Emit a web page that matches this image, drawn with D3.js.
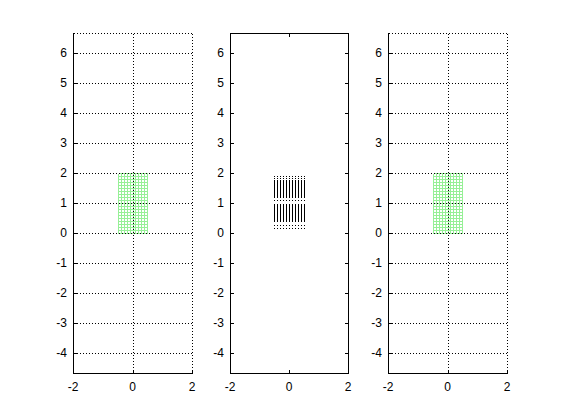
<!DOCTYPE html>
<html><head><meta charset="utf-8">
<script src="https://cdn.jsdelivr.net/npm/d3@7"></script>
<style>
html,body{margin:0;padding:0;background:#fff;}
svg{display:block;}
text{font-family:"Liberation Sans",Arial,sans-serif;font-size:12px;fill:#000;}
</style></head><body>
<script>
// ---- data ----
const xTicks = [-2, 0, 2];
const yTicks = [-4, -3, -2, -1, 0, 1, 2, 3, 4, 5, 6];
const xDomain = [-2, 2];
const yDomain = [-4.667, 6.667];
const meshX = [-0.5, -0.4, -0.3, -0.2, -0.1, 0, 0.1, 0.2, 0.3, 0.4, 0.5];
const meshY = [0, 0.1, 0.2, 0.3, 0.4, 0.5, 0.6, 0.7, 0.8, 0.9, 1.0, 1.1, 1.2, 1.3, 1.4, 1.5, 1.6, 1.7, 1.8, 1.9, 2.0];
const quiverX = [-0.5, -0.4, -0.3, -0.2, -0.1, 0, 0.1, 0.2, 0.3, 0.4, 0.5];
const quiverY = [1.9, 1.83, 1.77, 1.67, 1.57, 1.47, 1.37, 1.27, 1.1, 0.95, 0.85, 0.75, 0.65, 0.55, 0.45, 0.27, 0.17];
const quiverV = [0, 0, -0.1, -0.1, -0.1, -0.1, -0.1, -0.1, 0, -0.1, -0.1, -0.1, -0.1, -0.1, -0.1, 0, 0];

const W = 561, H = 420;
const svg = d3.select("body").append("svg").attr("width", W).attr("height", H);

const panels = [
  {x0: 73, x1: 192, type: "mesh", box: false, grid: true},
  {x0: 230, x1: 348, type: "quiver", box: true, grid: false},
  {x0: 388, x1: 507, type: "mesh", box: false, grid: true}
];
const yTop = 33, yBot = 373;
const meshColor = "rgb(150,240,150)";

panels.forEach(p => {
  const x = d3.scaleLinear().domain(xDomain).range([p.x0, p.x1]);
  const y = d3.scaleLinear().domain(yDomain).range([yBot, yTop]);
  const g = svg.append("g");
  const px = v => Math.round(x(v)) + 0.5;
  const py = v => Math.round(y(v)) + 0.5;

  if (p.type === "mesh") {
    const m = g.append("g").attr("stroke", meshColor).attr("stroke-width", 1).attr("shape-rendering", "crispEdges");
    meshX.forEach(v => m.append("line").attr("x1", px(v)).attr("x2", px(v))
      .attr("y1", py(meshY[0])).attr("y2", py(meshY[meshY.length - 1])));
    meshY.forEach(v => m.append("line").attr("y1", py(v)).attr("y2", py(v))
      .attr("x1", px(meshX[0])).attr("x2", px(meshX[meshX.length - 1])));
  } else {
    const q = g.append("g").attr("stroke", "#000").attr("stroke-width", 1).attr("fill", "none")
      .attr("shape-rendering", "crispEdges");
    quiverX.forEach(xv => {
      quiverY.forEach((yv, i) => {
        const v = quiverV[i];
        const xa = px(xv);
        const ya = y(yv), yb = y(yv + v);
        if (Math.abs(yb - ya) < 1) {
          q.append("rect").attr("x", xa - 0.5).attr("y", Math.round(ya)).attr("width", 1).attr("height", 1)
            .attr("fill", "#000").attr("stroke", "none");
        } else {
          q.append("line").attr("x1", xa).attr("x2", xa).attr("y1", Math.round(ya)).attr("y2", Math.round(yb));
        }
      });
    });
  }

  // grid
  if (p.grid) {
    const gr = g.append("g").attr("stroke", "#000").attr("stroke-width", 1)
      .attr("stroke-dasharray", "1,2").attr("shape-rendering", "crispEdges");
    xTicks.slice(1).forEach(v => gr.append("line").attr("x1", px(v)).attr("x2", px(v))
      .attr("y1", yBot + 0.5).attr("y2", yTop + 0.5));
    yTicks.forEach(v => gr.append("line").attr("y1", py(v)).attr("y2", py(v))
      .attr("x1", p.x0 + 0.5).attr("x2", p.x1 + 0.5));
    gr.append("line").attr("y1", yTop + 0.5).attr("y2", yTop + 0.5).attr("x1", p.x0 + 0.5).attr("x2", p.x1 + 0.5);
  }

  // axes lines
  const ax = g.append("g").attr("stroke", "#000").attr("stroke-width", 1).attr("shape-rendering", "crispEdges");
  ax.append("line").attr("x1", p.x0 + 0.5).attr("x2", p.x0 + 0.5).attr("y1", yTop).attr("y2", yBot + 1);
  ax.append("line").attr("x1", p.x0).attr("x2", p.x1 + 1).attr("y1", yBot + 0.5).attr("y2", yBot + 0.5);
  if (p.box) {
    ax.append("line").attr("x1", p.x1 + 0.5).attr("x2", p.x1 + 0.5).attr("y1", yTop).attr("y2", yBot + 1);
    ax.append("line").attr("x1", p.x0).attr("x2", p.x1 + 1).attr("y1", yTop + 0.5).attr("y2", yTop + 0.5);
  }
  const tl = 3;
  xTicks.forEach(v => {
    ax.append("line").attr("x1", px(v)).attr("x2", px(v)).attr("y1", yBot).attr("y2", yBot - tl);
    if (p.box) ax.append("line").attr("x1", px(v)).attr("x2", px(v)).attr("y1", yTop).attr("y2", yTop + tl + 1);
  });
  yTicks.forEach(v => {
    ax.append("line").attr("y1", py(v)).attr("y2", py(v)).attr("x1", p.x0).attr("x2", p.x0 + tl + 1);
    if (p.box) ax.append("line").attr("y1", py(v)).attr("y2", py(v)).attr("x1", p.x1 + 1).attr("x2", p.x1 - tl);
  });

  // labels
  xTicks.forEach(v => g.append("text").attr("x", x(v)).attr("y", yBot + 18)
    .attr("text-anchor", "middle").text(v));
  yTicks.forEach(v => g.append("text").attr("x", p.x0 - 6).attr("y", y(v) + 4)
    .attr("text-anchor", "end").text(v));
});
</script>
</body></html>
